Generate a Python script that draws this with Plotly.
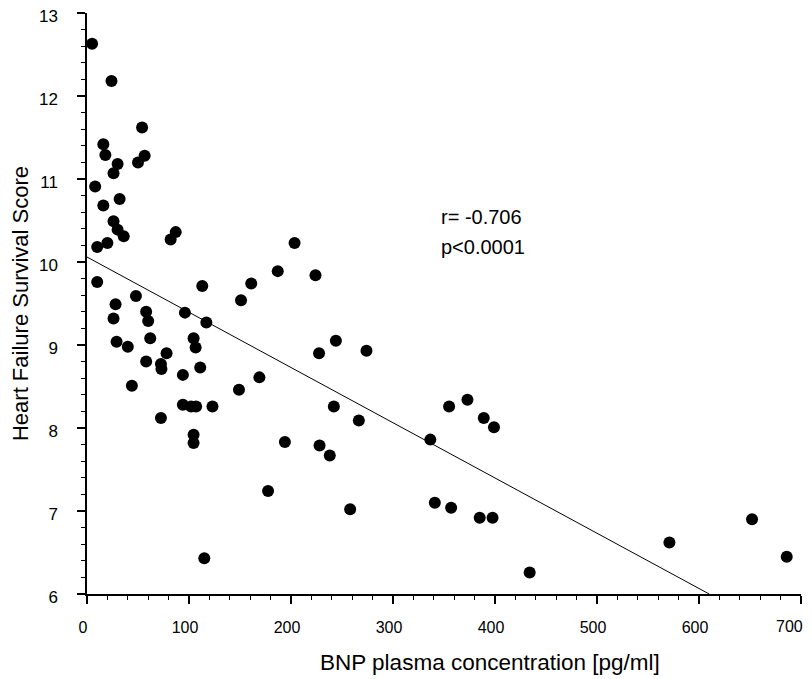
import plotly.graph_objects as go

# BNP plasma concentration [pg/ml]
bnp = [5, 24, 54, 16, 18, 56.5, 50, 30, 26, 8, 32, 16, 26, 30, 36, 20, 10, 82, 87, 187,
       10, 113, 161, 151, 48, 28, 58, 26, 60, 96, 117, 29, 40, 62, 104.5, 106.5, 78, 58, 72.5, 73,
       111, 94, 169, 149, 44, 94, 102, 107, 123, 72.5, 104.5, 104.5, 194, 177.5, 115, 203.5, 224, 244, 227.5, 274,
       242, 266.5, 355, 373, 389, 228, 238, 336.6, 399, 258, 341, 357, 385, 397.6, 434, 571, 652, 686]
# Heart Failure Survival Score
hfss = [12.63, 12.18, 11.62, 11.42, 11.29, 11.28, 11.20, 11.18, 11.07, 10.91, 10.76, 10.68, 10.49, 10.39, 10.31, 10.23, 10.18, 10.27, 10.36, 9.89,
        9.76, 9.71, 9.74, 9.54, 9.59, 9.49, 9.40, 9.32, 9.29, 9.39, 9.27, 9.04, 8.98, 9.08, 9.08, 8.97, 8.90, 8.80, 8.77, 8.71,
        8.73, 8.64, 8.61, 8.46, 8.51, 8.28, 8.26, 8.26, 8.26, 8.12, 7.92, 7.82, 7.83, 7.24, 6.43, 10.23, 9.84, 9.05, 8.90, 8.93,
        8.26, 8.09, 8.26, 8.34, 8.12, 7.79, 7.67, 7.86, 8.01, 7.02, 7.10, 7.04, 6.92, 6.92, 6.26, 6.62, 6.90, 6.45]

# x tick values and labels (the last label is drawn right-aligned so it stays on the page)
x_tickvals = [0, 100, 200, 300, 400, 500, 600, 700]
x_ticklabels = ["0", "100", "200", "300", "400", "500", "600", "700"]

# regression line end points
fit_x = [0, 610]
fit_y = [10.06, 6.0]

stats_text = ["r= -0.706", "p<0.0001"]
stats_x = [345, 345]
stats_y = [10.54, 10.18]

x_title = "BNP plasma concentration [pg/ml]"
y_title = "Heart Failure Survival Score"

FONT = "Liberation Sans, Arial, sans-serif"

fig = go.Figure()
fig.add_trace(go.Scatter(x=fit_x, y=fit_y, mode="lines",
                         line=dict(color="black", width=1), showlegend=False, hoverinfo="skip"))
fig.add_trace(go.Scatter(x=bnp, y=hfss, mode="markers", cliponaxis=False,
                         marker=dict(color="black", size=12), showlegend=False))

for t, x, y in zip(stats_text, stats_x, stats_y):
    fig.add_annotation(x=x, y=y, text=t, showarrow=False, xanchor="left", yanchor="middle",
                       font=dict(family=FONT, size=20, color="black"))

# x-axis title (sits right of the plot centre in the original)
fig.add_annotation(x=0.565, y=0, xref="paper", yref="paper", yshift=-68,
                   text=x_title, showarrow=False, xanchor="center", yanchor="middle",
                   font=dict(family=FONT, size=22.5, color="black"))

# last x tick label, right-aligned at its tick
fig.add_annotation(x=x_tickvals[-1], y=0, xref="x", yref="paper", yshift=-32, xshift=3,
                   text=x_ticklabels[-1], showarrow=False, xanchor="right", yanchor="middle",
                   borderpad=0, font=dict(family=FONT, size=16, color="black"))

axis_common = dict(showline=True, linecolor="black", linewidth=1.5, showgrid=False, zeroline=False,
                   ticks="outside", ticklen=8, tickwidth=1.5, tickcolor="black",
                   ticklabeloverflow="allow")

fig.update_xaxes(range=[0, 700], tickmode="array", tickvals=x_tickvals,
                 ticktext=x_ticklabels[:-1] + [""],
                 minor=dict(dtick=20, ticks="outside", ticklen=4, tickwidth=1.2, tickcolor="black"),
                 ticklabelstandoff=10, ticklabelshift=-4,
                 tickfont=dict(family=FONT, size=16, color="black"),
                 **axis_common)
fig.update_yaxes(range=[6, 13], dtick=1, tick0=6,
                 minor=dict(dtick=0.2, ticks="outside", ticklen=4, tickwidth=1.2, tickcolor="black"),
                 ticklabelstandoff=16, ticklabelshift=3,
                 tickfont=dict(family=FONT, size=17, color="black"),
                 title=dict(text=y_title, standoff=8,
                            font=dict(family=FONT, size=22, color="black")),
                 **axis_common)

# page body has an 8px default margin, so the figure is drawn 8px smaller
fig.update_layout(width=804, height=671, plot_bgcolor="white", paper_bgcolor="white",
                  margin=dict(l=79, r=11, t=5, b=85, autoexpand=False))

fig.write_html("out.html")
